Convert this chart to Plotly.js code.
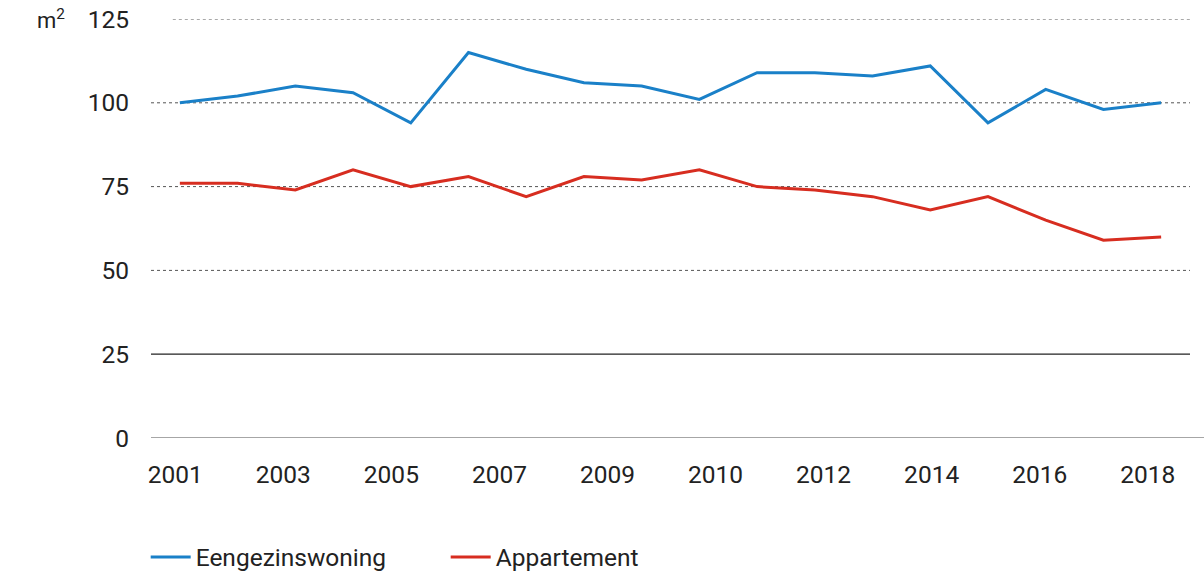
<!DOCTYPE html>
<html>
<head>
<meta charset="utf-8">
<script src="https://cdn.plot.ly/plotly-3.0.1.min.js"></script>
<style>html,body{margin:0;padding:0;background:#fff;}#chart{width:1204px;height:571px;}</style>
</head>
<body>
<div id="chart"></div>
<script>
const years = [2001,2002,2003,2004,2005,2006,2007,2008,2009,2010,2011,2012,2013,2014,2015,2016,2017,2018];
const eengezinswoning = [100,102,105,103,94,115,110,106,105,101,109,109,108,111,94,104,98,100];
const appartement = [76,76,74,80,75,78,72,78,77,80,75,74,72,68,72,65,59,60];
const tickLabels = ['2001','2003','2005','2007','2009','2010','2012','2014','2016','2018'];
const yTicks = [0,25,50,75,100,125];
const dottedGrid = [50,75,100,125];

const labelStart = 2000.92, labelStep = 1.872;
const tickvals = tickLabels.map((_, i) => labelStart + i * labelStep);

const font = {family: 'Roboto, "Noto Sans", sans-serif', size: 24.5, color: '#222'};

const shapes = [];
dottedGrid.forEach(v => shapes.push({type:'line', xref:'paper', yref:'y', x0: v===125 ? 0.021 : 0, x1: 1, y0: v, y1: v, line:{color:'#555', width:1, dash:'dot'}, layer:'below'}));
shapes.push({type:'line', xref:'paper', yref:'y', x0:0, x1:1, y0:25, y1:25, line:{color:'#222', width:1.3}, layer:'below'});
shapes.push({type:'line', xref:'paper', yref:'y', x0:0, x1:1.0135, y0:0, y1:0, line:{color:'#888', width:1.5}, layer:'below'});

const data = [
  {x: years, y: eengezinswoning, name: 'Eengezinswoning', type:'scatter', mode:'lines', line:{color:'#1a80c8', width:3}},
  {x: years, y: appartement, name: 'Appartement', type:'scatter', mode:'lines', line:{color:'#d72d20', width:3}}
];

const layout = {
  width: 1204, height: 571,
  margin: {l:151, r:14, t:19, b:133, autoexpand:false},
  paper_bgcolor:'#fff', plot_bgcolor:'#fff',
  font: font,
  showlegend: true,
  xaxis: {range:[2000.5, 2018.5], tickmode:'array', tickvals: tickvals, ticktext: tickLabels,
          showgrid:false, zeroline:false, showline:false, ticks:'outside', ticklen:15, tickcolor:'rgba(0,0,0,0)', tickfont: font, fixedrange:true},
  yaxis: {range:[0,125], tickmode:'array', tickvals: yTicks, showgrid:false, zeroline:false, showline:false,
          ticks:'outside', ticklen:16, tickcolor:'rgba(0,0,0,0)', tickfont: font, fixedrange:true},
  shapes: shapes,
  annotations: [{xref:'paper', yref:'y', x:-0.081, y:125, xanchor:'right', yanchor:'middle', text:'m<sup>2</sup>', showarrow:false, font:{family:font.family, size:22, color:'#222'}}],
  legend: {orientation:'h', xref:'container', yref:'container', x:0.121, xanchor:'left', y:0.0245, yanchor:'middle', font: font,
           entrywidth: 245, entrywidthmode:'pixels', itemwidth:40, traceorder:'normal'}
};

Plotly.newPlot('chart', data, layout, {displayModeBar:false, staticPlot:true});
</script>
</body>
</html>
